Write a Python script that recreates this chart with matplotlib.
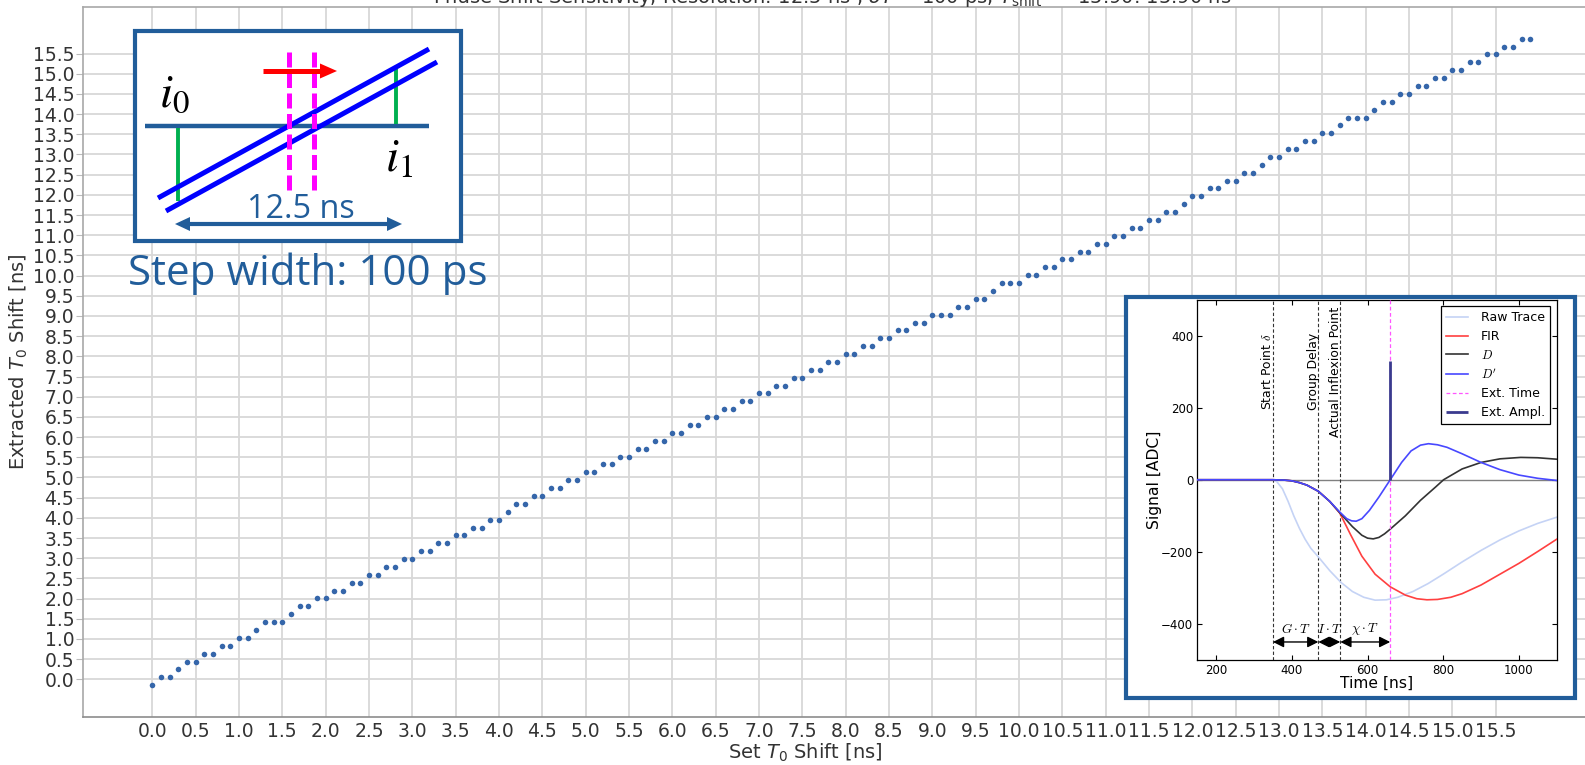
import numpy as np
import matplotlib
matplotlib.use("Agg")
import matplotlib.pyplot as plt
from matplotlib.patches import Rectangle, Polygon
from matplotlib.ticker import FormatStrFormatter

plt.rcParams["font.family"] = ["DejaVu Sans"]
plt.rcParams["mathtext.fontset"] = "dejavusans"

W, H = 1585, 765

# ---- main scan: set shift vs. extracted shift (ns) ----
set_shift = np.round(np.arange(160) * 0.1, 1)
extracted_shift = [
    -0.146, 0.049, 0.049, 0.245, 0.440, 0.440, 0.635, 0.635, 0.831, 0.831,
    1.026, 1.026, 1.221, 1.417, 1.417, 1.417, 1.612, 1.807, 1.807, 2.002,
    2.002, 2.198, 2.198, 2.393, 2.393, 2.588, 2.588, 2.784, 2.784, 2.979,
    2.979, 3.174, 3.174, 3.370, 3.370, 3.565, 3.565, 3.760, 3.760, 3.956,
    3.956, 4.151, 4.346, 4.346, 4.541, 4.541, 4.737, 4.737, 4.932, 4.932,
    5.127, 5.127, 5.323, 5.323, 5.518, 5.518, 5.713, 5.713, 5.909, 5.909,
    6.104, 6.104, 6.299, 6.299, 6.495, 6.495, 6.690, 6.690, 6.885, 6.885,
    7.081, 7.081, 7.276, 7.276, 7.471, 7.471, 7.666, 7.666, 7.862, 7.862,
    8.057, 8.057, 8.252, 8.252, 8.448, 8.448, 8.643, 8.643, 8.838, 8.838,
    9.034, 9.034, 9.034, 9.229, 9.229, 9.424, 9.424, 9.620, 9.815, 9.815,
    9.815, 10.010, 10.010, 10.206, 10.206, 10.401, 10.401, 10.596, 10.596, 10.791,
    10.791, 10.987, 10.987, 11.182, 11.182, 11.377, 11.377, 11.573, 11.573, 11.768,
    11.963, 11.963, 12.159, 12.159, 12.354, 12.354, 12.549, 12.549, 12.745, 12.940,
    12.940, 13.135, 13.135, 13.331, 13.331, 13.526, 13.526, 13.721, 13.916, 13.916,
    13.916, 14.112, 14.307, 14.307, 14.502, 14.502, 14.698, 14.698, 14.893, 14.893,
    15.088, 15.088, 15.284, 15.284, 15.479, 15.479, 15.674, 15.674, 15.870, 15.870,
]
x_ticks = np.arange(0, 16, 0.5)
y_ticks = np.arange(0, 16, 0.5)

title = (r"Phase Shift Sensitivity, Resolution: 12.5 ns , $\delta T$ = 100 ps, "
         r"$T_{\rm shift}$ = -15.90: 15.90 ns")

# ---- pulse-shape inset: signal [ADC] vs time [ns] ----
raw_t = [150, 350, 360, 375, 390, 405, 420, 435, 450, 470, 500, 530, 560, 590,
         620, 650, 680, 720, 760, 800, 850, 900, 950, 1000, 1050, 1100]
raw_v = [0, 0, -5, -25, -60, -100, -135, -165, -190, -214, -252, -285, -310, -326,
         -334, -333, -326, -310, -288, -262, -228, -196, -167, -142, -121, -104]
fir_t = [150, 350, 380, 400, 420, 440, 470, 500, 527, 555, 585, 620, 660, 700,
         730, 757, 785, 820, 850, 900, 950, 1000, 1050, 1100]
fir_v = [0, 0, -1, -3, -8, -15, -32, -60, -93, -152, -212, -262, -297, -320,
         -330, -333, -332, -326, -316, -292, -262, -232, -199, -165]
d_t = [150, 350, 380, 400, 420, 440, 470, 500, 527, 560, 585, 600, 615, 630,
       645, 660, 700, 740, 780, 801, 850, 900, 950, 1005, 1050, 1100]
d_v = [0, 0, -1, -3, -8, -15, -32, -60, -92, -130, -154, -162, -164, -160,
       -150, -137, -100, -57, -20, 0, 30, 48, 58, 62, 61, 57]
dp_t = [150, 350, 380, 400, 420, 440, 470, 500, 527, 545, 558, 570, 585, 605,
        630, 660, 690, 715, 740, 761, 785, 810, 850, 900, 950, 1000, 1050, 1100]
dp_v = [0, 0, -1, -3, -8, -15, -32, -60, -90, -108, -114, -115, -108, -85,
        -48, 0, 48, 80, 96, 100, 97, 90, 72, 48, 28, 13, 4, -2]
start_point = 350
group_delay = 470
inflexion_point = 528
ext_time = 660
ext_ampl = 330

BOX = "#215d9a"
TXT = "#333333"


def px_rect(x0, y0, x1, y1):
    return [x0 / W, 1 - y1 / H, (x1 - x0) / W, (y1 - y0) / H]


fig = plt.figure(figsize=(W / 100, H / 100), dpi=100)

# ---------------- main axes ----------------
ax = fig.add_axes(px_rect(83.3, 7.3, 1608.4, 716.7), zorder=0)
ax.set_xlim(-0.796, 16.80)
ax.set_ylim(-0.926, 16.646)
ax.plot(set_shift, extracted_shift, "o", ms=4.0, color="#3566aa", mec="none", zorder=3)
ax.set_xticks(x_ticks)
ax.set_yticks(y_ticks)
ax.xaxis.set_major_formatter(FormatStrFormatter("%.1f"))
ax.yaxis.set_major_formatter(FormatStrFormatter("%.1f"))
ax.grid(True, color="#d8d8d8", lw=1.3)
ax.set_axisbelow(True)
ax.tick_params(axis="x", labelsize=13.5, labelcolor=TXT, length=0, pad=4)
ax.tick_params(axis="y", labelsize=13.5, labelcolor=TXT, length=5, color="#bbbbbb", pad=1.5)
for s in ax.spines.values():
    s.set_color("#a8a8a8")
    s.set_linewidth(1.2)
ax.spines["bottom"].set_color("#8c8c8c")
ax.set_xlabel(r"Set $T_0$ Shift [ns]", fontsize=14, color=TXT)
ax.set_ylabel(r"Extracted $T_0$ Shift [ns]", fontsize=14, color=TXT)
ax.xaxis.set_label_coords((805 - 83.3) / 1525.1, -(742 - 716.7) / 709.4)
ax.yaxis.set_label_coords((30 - 83.3) / 1525.1, 0.5)
fig.text(832 / W, 1 - 3.0 / H, title, ha="center", va="baseline", fontsize=14, color=TXT)

# ---------------- overlay for the schematic and inset frame ----------------
ov = fig.add_axes([0, 0, 1, 1], zorder=1)
ov.set_xlim(0, W)
ov.set_ylim(H, 0)
ov.axis("off")
ov.patch.set_alpha(0)

# schematic box (top left)
ov.add_patch(Rectangle((135.3, 31.3), 326.0, 209.4, fc="white", ec=BOX, lw=3.0))
ov.plot([145, 429], [126, 126], color=BOX, lw=3.2, solid_capstyle="butt")
ov.plot([178, 178], [128, 201], color="#00b050", lw=2.8, solid_capstyle="butt")
ov.plot([396, 396], [67, 124], color="#00b050", lw=2.8, solid_capstyle="butt")
ov.plot([158, 429], [198, 49], color="#0000ff", lw=3.6, solid_capstyle="butt")
ov.plot([166, 437], [211, 62], color="#0000ff", lw=3.6, solid_capstyle="butt")
for xm in (288.7, 314.3):
    ov.plot([xm, xm], [52, 193], color="#ff00ff", lw=3.6, dashes=(3.0, 1.1),
            solid_capstyle="butt", dash_capstyle="butt")
# red shift arrow
ov.plot([263, 322], [71, 71], color="#ff0000", lw=3.6, solid_capstyle="butt")
ov.add_patch(Polygon([[320, 63.5], [337, 71], [320, 78.5]], closed=True, fc="#ff0000", ec="none"))
# 12.5 ns span arrow
ov.plot([185, 392], [224, 224], color=BOX, lw=3.0, solid_capstyle="butt")
ov.add_patch(Polygon([[175, 224], [190, 217], [190, 231]], closed=True, fc=BOX, ec="none"))
ov.add_patch(Polygon([[402, 224], [387, 217], [387, 231]], closed=True, fc=BOX, ec="none"))
ov.text(159, 107, r"$i_0$", fontsize=34, math_fontfamily="stix", ha="left", va="baseline", color="black")
ov.text(385, 172, r"$i_1$", fontsize=34, math_fontfamily="stix", ha="left", va="baseline", color="black")
ov.text(246.7, 218.3, "12.5 ns", fontsize=23.3, family="Open Sans", ha="left", va="baseline", color=BOX)
ov.text(128.3, 285.0, "Step width: 100 ps", fontsize=30.3, family="Open Sans", ha="left", va="baseline", color=BOX)

# frame of the pulse-shape inset (bottom right)
ov.add_patch(Rectangle((1126, 297), 448.7, 401.4, fc="white", ec=BOX, lw=3.0))

# ---------------- pulse-shape inset axes ----------------
ax2 = fig.add_axes(px_rect(1197.3, 299.5, 1556.7, 660), zorder=2)
ax2.set_xlim(150, 1100)
ax2.set_ylim(-500, 500)
ax2.axhline(0, color="#808080", lw=1.0, zorder=1)
ax2.plot(raw_t, raw_v, color="#c5d3f5", lw=1.2, label="Raw Trace", zorder=2)
ax2.plot(fir_t, fir_v, color="#ff4040", lw=1.2, label="FIR", zorder=3)
ax2.plot(d_t, d_v, color="#333333", lw=1.2, label=r"$D$", zorder=4)
ax2.plot(dp_t, dp_v, color="#4848ff", lw=1.2, label=r"$D'$", zorder=5)
ax2.axvline(ext_time, color="#ff55ff", lw=0.9, dashes=(3, 2), label="Ext. Time", zorder=6)
ax2.vlines(ext_time, 0, ext_ampl, color="#3a3a8e", lw=2.0, label="Ext. Ampl.", zorder=7)
for xv in (start_point, group_delay, inflexion_point):
    ax2.axvline(xv, color="#333333", lw=0.8, dashes=(3, 2), zorder=1)
ax2.text(start_point + 3, 300, r"Start Point $\delta$", rotation=90, fontsize=8.9,
         ha="right", va="center", math_fontfamily="cm")
ax2.text(group_delay + 5, 300, "Group Delay", rotation=90, fontsize=8.9, ha="right", va="center")
ax2.text(inflexion_point + 4, 300, "Actual Inflexion Point", rotation=90, fontsize=8.9,
         ha="right", va="center")
span_kw = dict(arrowstyle="<|-|>,head_length=0.5,head_width=0.25", color="black",
               lw=1.0, shrinkA=0, shrinkB=0, mutation_scale=13)
for a, b, lab in ((start_point, group_delay, r"$G\cdot T$"),
                  (group_delay, inflexion_point, r"$I\cdot T$"),
                  (inflexion_point, ext_time, r"$\chi\cdot T$")):
    ax2.annotate("", xy=(b, -450), xytext=(a, -450), arrowprops=span_kw)
    ax2.text((a + b) / 2, -415, lab, fontsize=9.5, ha="center", va="center", math_fontfamily="cm")
ax2.set_xticks([200, 400, 600, 800, 1000])
ax2.set_yticks([-400, -200, 0, 200, 400])
ax2.tick_params(direction="in", top=True, right=True, labelsize=8.5, length=3.5, width=0.8, pad=3)
for s in ax2.spines.values():
    s.set_linewidth(0.9)
ax2.set_xlabel("Time [ns]", fontsize=11.2)
ax2.set_ylabel("Signal [ADC]", fontsize=11.2)
ax2.xaxis.set_label_coords(0.5, -(676 - 660) / 360.5)
ax2.yaxis.set_label_coords((1162 - 1197.3) / 359.4, 0.5)
leg = ax2.legend(loc="upper right", fontsize=9, fancybox=False, framealpha=1,
                 edgecolor="black", borderaxespad=0.55, handlelength=1.8,
                 handletextpad=1.0, labelspacing=0.45)
leg.get_frame().set_linewidth(0.9)
for t in leg.get_texts():
    t.set_math_fontfamily("cm")

fig.savefig("out.png", dpi=100)
